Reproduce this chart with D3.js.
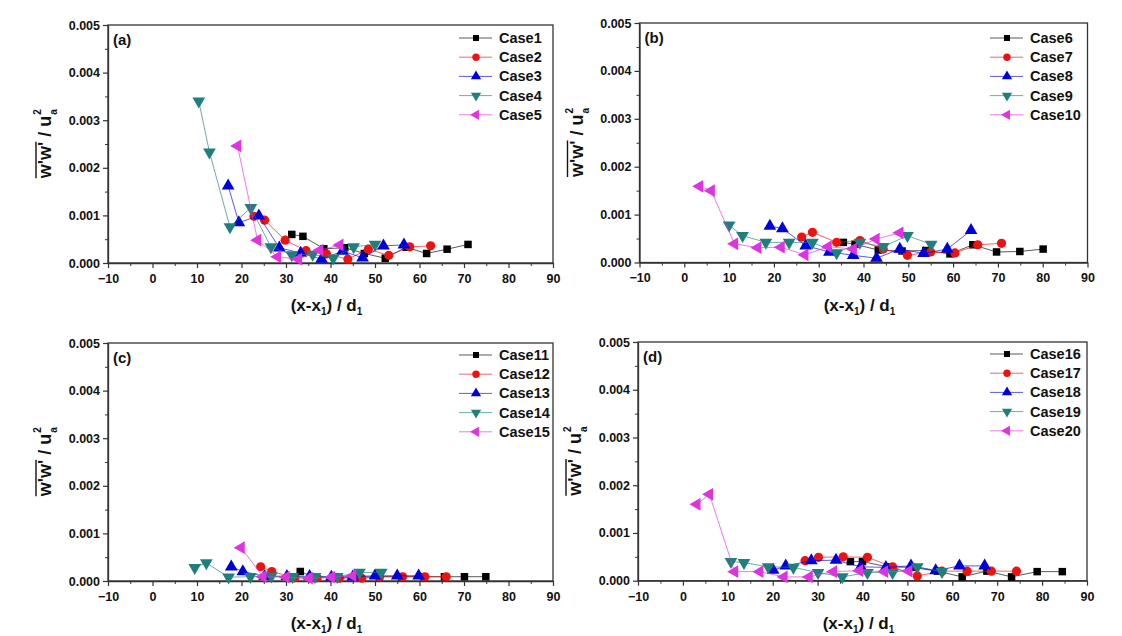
<!DOCTYPE html>
<html><head><meta charset="utf-8">
<script src="https://cdn.jsdelivr.net/npm/d3@7"></script>
<style>
body{margin:0;background:#fff;}
text{font-family:"Liberation Sans",Arial,sans-serif;font-weight:bold;fill:#111;}
</style></head>
<body><svg id="c" width="1122" height="636"></svg>
<script>
// ---------- data ----------
const xTicks = [-10,0,10,20,30,40,50,60,70,80,90];
const yTicks = [0.000,0.001,0.002,0.003,0.004,0.005];
const panelLabels = ["(a)","(b)","(c)","(d)"];
const caseNames = [
  ["Case1","Case2","Case3","Case4","Case5"],
  ["Case6","Case7","Case8","Case9","Case10"],
  ["Case11","Case12","Case13","Case14","Case15"],
  ["Case16","Case17","Case18","Case19","Case20"]
];
// panel (a)
const case1x=[31.3,33.8,38.5,43.2,47.6,52.3,57.0,61.6,66.2,70.9];
const case1y=[0.00060,0.00056,0.00030,0.00032,0.00020,0.00010,0.00033,0.00020,0.00029,0.00039];
const case2x=[22.8,25.2,29.8,34.5,39.1,43.9,48.5,53.1,57.8,62.5];
const case2y=[0.00098,0.00090,0.00048,0.00026,0.00019,0.00008,0.00029,0.00016,0.00034,0.00036];
const case3x=[17.0,19.4,23.9,28.5,33.3,38.0,42.7,47.2,51.9,56.5];
const case3y=[0.00162,0.00085,0.00099,0.00032,0.00021,0.00008,0.00025,0.00011,0.00036,0.00038];
const case4x=[10.4,12.8,17.4,22.1,26.6,31.3,36.0,40.6,45.2,50.0];
const case4y=[0.00340,0.00233,0.00076,0.00116,0.00034,0.00017,0.00018,0.00010,0.00034,0.00039];
const case5x=[19.1,23.6,28.1,32.8,37.6,42.1];
const case5y=[0.00246,0.00048,0.00013,0.00008,0.00027,0.00038];
// panel (b)
const case6x=[35.5,38.1,43.3,48.6,53.9,59.3,64.4,69.7,74.9,80.1];
const case6y=[0.00042,0.00038,0.00026,0.00024,0.00025,0.00018,0.00037,0.00022,0.00023,0.00028];
const case7x=[26.2,28.6,34.0,39.2,44.4,49.8,55.0,60.4,65.5,70.8];
const case7y=[0.00053,0.00063,0.00042,0.00046,0.00028,0.00015,0.00022,0.00020,0.00037,0.00040];
const case8x=[19.1,21.9,27.1,32.4,37.7,42.9,48.1,53.4,58.7,64.0];
const case8y=[0.00076,0.00071,0.00035,0.00022,0.00015,0.00009,0.00028,0.00019,0.00028,0.00067];
const case9x=[10.0,13.0,18.2,23.4,28.6,34.0,39.2,44.4,49.8,55.1];
const case9y=[0.00078,0.00056,0.00042,0.00042,0.00042,0.00020,0.00042,0.00033,0.00056,0.00038];
const case10x=[3.4,6.0,11.2,16.4,21.6,26.9,32.1,37.7,42.8,48.1];
const case10y=[0.00159,0.00150,0.00039,0.00031,0.00032,0.00016,0.00033,0.00028,0.00049,0.00062];
// panel (c)
const case11x=[33.2,36.0,41.0,46.0,51.0,56.0,61.0,65.6,70.1,74.9];
const case11y=[0.00020,0.00009,0.00008,0.00008,0.00009,0.00009,0.00009,0.00009,0.00009,0.00009];
const case12x=[24.3,26.8,32.0,37.0,42.0,47.0,51.0,56.2,61.2,66.0];
const case12y=[0.00030,0.00020,0.00007,0.00007,0.00006,0.00006,0.00009,0.00009,0.00009,0.00009];
const case13x=[17.7,20.3,25.2,30.2,35.3,40.2,45.0,50.0,55.0,59.8];
const case13y=[0.00030,0.00020,0.00010,0.00010,0.00010,0.00008,0.00009,0.00011,0.00011,0.00011];
const case14x=[9.5,12.1,17.1,22.0,26.7,31.5,36.5,41.5,46.5,51.4];
const case14y=[0.00028,0.00038,0.00008,0.00009,0.00010,0.00009,0.00009,0.00009,0.00018,0.00018];
const case15x=[19.9,24.8,30.0,35.2,40.2,45.0];
const case15y=[0.00070,0.00009,0.00008,0.00006,0.00008,0.00011];
// panel (d)
const case16x=[37.3,40.0,45.6,51.0,56.7,62.2,67.7,73.2,78.9,84.5];
const case16y=[0.00040,0.00040,0.00029,0.00028,0.00020,0.00008,0.00020,0.00008,0.00019,0.00019];
const case17x=[27.2,30.2,35.7,41.1,46.7,52.2,57.7,63.3,68.7,74.3];
const case17y=[0.00042,0.00049,0.00050,0.00049,0.00029,0.00010,0.00020,0.00020,0.00020,0.00020];
const case18x=[20.1,22.9,28.6,34.1,39.6,45.2,50.8,56.3,61.6,67.2];
const case18y=[0.00022,0.00031,0.00042,0.00043,0.00029,0.00028,0.00031,0.00021,0.00031,0.00031];
const case19x=[10.7,13.6,19.0,24.6,30.1,35.5,41.1,46.7,52.2,57.7];
const case19y=[0.00040,0.00038,0.00029,0.00028,0.00017,0.00008,0.00017,0.00017,0.00029,0.00019];
const case20x=[3.1,5.9,11.5,17.1,22.5,28.1,33.5,39.3,44.9,50.3];
const case20y=[0.00160,0.00181,0.00019,0.00019,0.00008,0.00008,0.00019,0.00021,0.00019,0.00020];

const panelData = [
  [[case1x,case1y],[case2x,case2y],[case3x,case3y],[case4x,case4y],[case5x,case5y]],
  [[case6x,case6y],[case7x,case7y],[case8x,case8y],[case9x,case9y],[case10x,case10y]],
  [[case11x,case11y],[case12x,case12y],[case13x,case13y],[case14x,case14y],[case15x,case15y]],
  [[case16x,case16y],[case17x,case17y],[case18x,case18y],[case19x,case19y],[case20x,case20y]]
];

// ---------- styling ----------
const colors = ["#000000","#ee1111","#0000dd","#1f7f7a","#e033e0"];
const shapes = [d3.symbolSquare,d3.symbolCircle,d3.symbolTriangle,d3.symbolTriangle,d3.symbolTriangle];
const rotations = [0,0,0,180,-90];
const sizes = [56,66,70,70,70];

const panels = [
  {l:108,r:553,t:25,b:263,legX:459,legY:38},
  {l:639.5,r:1087.5,t:23,b:262.5,legX:990,legY:38},
  {l:108,r:553,t:343,b:581,legX:459,legY:355},
  {l:638,r:1087,t:342,b:580.7,legX:990,legY:354}
];

const svg = d3.select("#c");

panels.forEach((p,pi)=>{
  const x = d3.scaleLinear().domain([-10,90]).range([p.l,p.r]);
  const y = d3.scaleLinear().domain([0,0.005]).range([p.b,p.t]);
  const g = svg.append("g");

  // frame
  g.append("rect").attr("x",p.l).attr("y",p.t).attr("width",p.r-p.l).attr("height",p.b-p.t)
    .attr("fill","none").attr("stroke","#333").attr("stroke-width",1.3);

  // axes
  const xa = g.append("g").attr("transform",`translate(0,${p.b})`)
    .call(d3.axisBottom(x).tickValues(xTicks).tickFormat(d3.format("d")).tickSize(5).tickSizeOuter(0));
  xa.select(".domain").attr("stroke","#333").attr("stroke-width",1.3);
  xa.selectAll(".tick line").attr("stroke","#333").attr("stroke-width",1.2);
  xa.selectAll(".tick text").attr("font-size",12.5).attr("dy","0.95em").attr("fill","#111")
    .style("font-family","Liberation Sans, Arial").style("font-weight","bold");
  const xm = g.append("g").attr("transform",`translate(0,${p.b})`)
    .call(d3.axisBottom(x).tickValues(d3.range(-5,90,10)).tickFormat("").tickSize(3).tickSizeOuter(0));
  xm.select(".domain").remove();
  xm.selectAll(".tick line").attr("stroke","#333");

  const ya = g.append("g").attr("transform",`translate(${p.l},0)`)
    .call(d3.axisLeft(y).tickValues(yTicks).tickFormat(d3.format(".3f")).tickSize(5).tickSizeOuter(0));
  ya.select(".domain").attr("stroke","#333").attr("stroke-width",1.3);
  ya.selectAll(".tick line").attr("stroke","#333").attr("stroke-width",1.2);
  ya.selectAll(".tick text").attr("font-size",12.5).attr("fill","#111")
    .style("font-family","Liberation Sans, Arial").style("font-weight","bold");
  const ym = g.append("g").attr("transform",`translate(${p.l},0)`)
    .call(d3.axisLeft(y).tickValues([0.0005,0.0015,0.0025,0.0035,0.0045]).tickFormat("").tickSize(3).tickSizeOuter(0));
  ym.select(".domain").remove();
  ym.selectAll(".tick line").attr("stroke","#333");

  // panel label
  g.append("text").attr("x",p.l+5).attr("y",p.t+20).attr("font-size",15).text(panelLabels[pi]);

  // x title
  const cx = (p.l+p.r)/2 - 4;
  const xt = g.append("text").attr("x",cx).attr("y",p.b+48).attr("font-size",17).attr("text-anchor","middle");
  xt.append("tspan").text("(x-x");
  xt.append("tspan").attr("font-size",10).attr("dy",4).text("1");
  xt.append("tspan").attr("dy",-4).text(") / d");
  xt.append("tspan").attr("font-size",10).attr("dy",4).text("1");

  // y title (rotated)
  const yg = g.append("g").attr("transform",`translate(${p.l-63},${(p.t+p.b)/2 - 1}) rotate(-90)`);
  const inner = yg.append("g");
  const t1 = inner.append("text").attr("x",0).attr("y",0).attr("font-size",18).text("w'w'");
  const w1 = t1.node().getComputedTextLength();
  const t2 = inner.append("text").attr("x",w1).attr("y",0).attr("font-size",18).text("\u00a0/ u");
  const w2 = t2.node().getComputedTextLength();
  inner.append("text").attr("x",w1+w2+1).attr("y",6).attr("font-size",10).text("a");
  inner.append("text").attr("x",w1+w2+1).attr("y",-10).attr("font-size",10).text("2");
  inner.append("line").attr("x1",0).attr("x2",w1).attr("y1",-15).attr("y2",-15)
    .attr("stroke","#111").attr("stroke-width",1.4);
  const tot = w1+w2+8;
  inner.attr("transform",`translate(${-tot/2},6)`);

  // series
  panelData[pi].forEach((s,si)=>{
    const pts = s[0].map((xv,i)=>[xv,s[1][i]]);
    g.append("path").datum(pts)
      .attr("d",d3.line().x(d=>x(d[0])).y(d=>y(d[1])))
      .attr("fill","none").attr("stroke",colors[si]).attr("stroke-width",1).attr("stroke-opacity",0.65);
    g.selectAll(null).data(pts).enter().append("path")
      .attr("d",d3.symbol().type(shapes[si]).size(sizes[si]))
      .attr("transform",d=>`translate(${x(d[0])},${y(d[1])}) rotate(${rotations[si]})`)
      .attr("fill",colors[si]);
  });

  // legend
  caseNames[pi].forEach((name,si)=>{
    const ly = p.legY + si*19.2;
    g.append("line").attr("x1",p.legX).attr("x2",p.legX+33).attr("y1",ly).attr("y2",ly)
      .attr("stroke",colors[si]).attr("stroke-width",1).attr("stroke-opacity",0.65);
    g.append("path").attr("d",d3.symbol().type(shapes[si]).size(sizes[si]*0.65))
      .attr("transform",`translate(${p.legX+17},${ly}) rotate(${rotations[si]})`)
      .attr("fill",colors[si]);
    g.append("text").attr("x",p.legX+40).attr("y",ly+5).attr("font-size",14.5).text(name);
  });
});
</script></body></html>
